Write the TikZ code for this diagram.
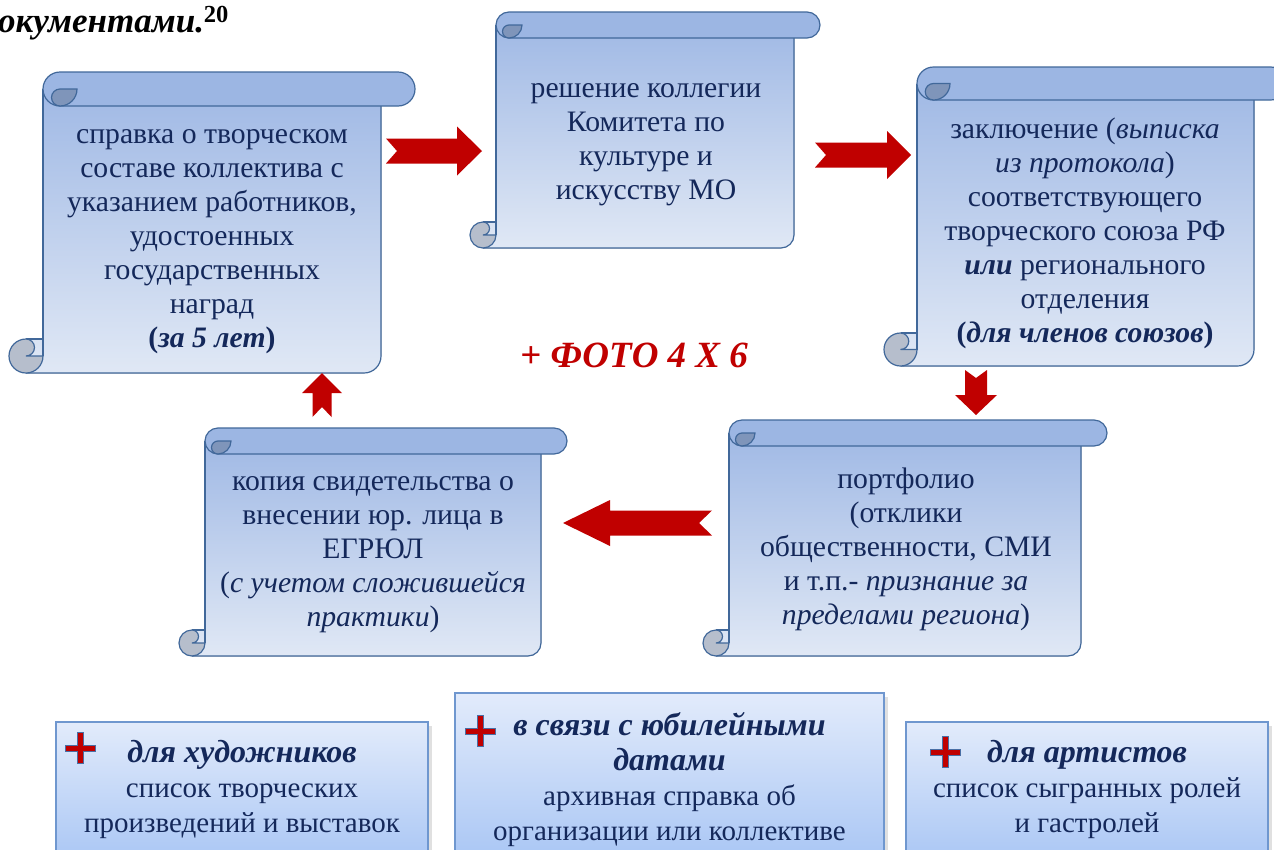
\documentclass[tikz,border=0pt]{standalone}
\usepackage{fontspec}
\setmainfont{Liberation Serif}
\usetikzlibrary{calc}
\definecolor{navy}{HTML}{14285A}
\definecolor{redarrow}{HTML}{C00000}
\definecolor{scrollline}{HTML}{41689A}
\definecolor{rollfill}{HTML}{9CB6E3}
\definecolor{pagetop}{HTML}{A0B9E5}
\definecolor{pagebot}{HTML}{E0E8F5}
\definecolor{curldark}{HTML}{7F95BA}
\definecolor{curllight}{HTML}{B6BECC}
\definecolor{boxtop}{HTML}{E2EBFB}
\definecolor{boxbot}{HTML}{A6C4F4}
\definecolor{boxline}{HTML}{6F97CF}
\definecolor{plusline}{HTML}{4A6FA5}
\newcommand\scrollshape[5]{%
 \pgfmathsetmacro\sXa{#1}\pgfmathsetmacro\sYa{#2}\pgfmathsetmacro\sXb{#3}\pgfmathsetmacro\sYb{#4}\pgfmathsetmacro\sR{#5}%
 \pgfmathsetmacro\sL{\sXa+2*\sR}\pgfmathsetmacro\sRb{\sXb-2*\sR}%
 \pgfmathsetmacro\sTa{\sYa+\sR}\pgfmathsetmacro\sTb{\sYa+2*\sR}%
 \pgfmathsetmacro\sBa{\sYb-\sR}\pgfmathsetmacro\sBb{\sYb-2*\sR}%
 \pgfmathsetmacro\sCx{\sXa+\sR}\pgfmathsetmacro\sDx{\sL+\sR}\pgfmathsetmacro\sh{\sR/2}%
 \fill[top color=pagetop,bottom color=pagebot] (\sL,\sTa) -- (\sRb,\sTa) -- (\sRb,\sBa) arc[start angle=0,end angle=90,radius=\sR] -- (\sCx,\sYb) -- (\sCx,\sBb) -- (\sL,\sBb) -- cycle;
 \draw[scrollpen] (\sRb,\sTb) -- (\sRb,\sBa) arc[start angle=0,end angle=90,radius=\sR] -- (\sCx,\sYb);
 \draw[scrollpen] (\sL,\sTa) -- (\sL,\sBa);
 \draw[scrollpen] (\sCx,\sBb) -- (\sL,\sBb);
 \filldraw[scrollpen, fill=curllight] (\sCx,\sBb) arc[start angle=270,end angle=0,radius=\sR] -- (\sCx,\sBa) arc[start angle=90,end angle=-90,radius=\sh] -- cycle;
 \filldraw[scrollpen, fill=rollfill, rounded corners=\sR pt] (\sL,\sYa) rectangle (\sXb,\sTb);
 \filldraw[scrollpen, fill=curldark] (\sDx,\sTa) arc[start angle=270,end angle=90,radius=\sh] arc[start angle=90,end angle=0,radius=\sR] -- cycle;
}
\newcommand\plussign[2]{%
 \filldraw[fill=redarrow, draw=plusline, line width=0.8pt] ($(#1,#2)+(-15,-3)$) -- ++(12,0) -- ++(0,-12.5) -- ++(6,0) -- ++(0,12.5) -- ++(12,0) -- ++(0,6) -- ++(-12,0) -- ++(0,12.5) -- ++(-6,0) -- ++(0,-12.5) -- ++(-12,0) -- cycle;
}
\newcommand\bottombox[4]{%
 \fill[black, opacity=0.12] (#1+4,#2+4) rectangle (#3+4,#4+4);
 \draw[boxline, line width=1.5pt, top color=boxtop, bottom color=boxbot] (#1,#2) rectangle (#3,#4);
}
\newcommand\hd[1]{{\fontsize{32}{35}\selectfont\bfseries\itshape #1}}
\begin{document}
\begin{tikzpicture}[x=1pt,y=-1pt,
  scrollpen/.style={draw=scrollline, line width=1.2pt},
  scrolltext/.style={text=navy, font=\fontsize{29.7}{34}\selectfont, align=center, inner sep=0pt},
  boxtext/.style={text=navy, font=\fontsize{29}{35}\selectfont, align=center, inner sep=0pt},
  blockarrow/.style={fill=redarrow}]
\useasboundingbox (0,0) rectangle (1274,849);
\clip (0,0) rectangle (1274,849);
\fill[white] (0,0) rectangle (1274,849);

% header fragment
\node[anchor=base west, inner sep=0pt, font=\fontsize{35}{40}\selectfont\bfseries\itshape] (hdr) at (-2,32) {окументами.\textsuperscript{\upshape 20}};

% scrolls
\scrollshape{9}{72}{415}{373}{17}
\scrollshape{470}{12}{820}{248}{13}
\scrollshape{884}{67}{1287}{366}{16.5}
\scrollshape{179}{428}{567}{656}{13}
\scrollshape{703}{420}{1107}{656}{13}

\node[scrolltext] (s1) at (212,238.5) {\strut справка о творческом\\составе коллектива с\\указанием работников,\\удостоенных\\государственных\\наград\\\textbf{(\textit{за 5 лет})}\strut};
\node[scrolltext] (s2) at (646,141.5) {\strut решение коллегии\\Комитета по\\культуре и\\искусству МО\strut};
\node[scrolltext] (s3) at (1085,233.5) {\strut заключение (\textit{выписка}\\\textit{из протокола})\\соответствующего\\творческого союза РФ\\\textbf{\textit{или}} регионального\\отделения\\\textbf{(\textit{для членов союзов})}\strut};
\node[scrolltext] (s4) at (373,551.5) {\strut копия свидетельства о\\внесении юр. лица в\\ЕГРЮЛ\\(\textit{с учетом сложившейся}\\\textit{практики})\strut};
\node[scrolltext] (s5) at (906,549.5) {\strut портфолио\\(отклики\\общественности, СМИ\\и т.п.- \textit{признание за}\\\textit{пределами региона})\strut};

% block arrows
\fill[blockarrow] (386,138.5) -- (457,138.5) -- (457,126.5) -- (482,151) -- (457,175.5) -- (457,163.5) -- (386,163.5) -- (397,151) -- cycle;
\fill[blockarrow] (815,142.5) -- (887,142.5) -- (887,131) -- (911,155) -- (887,179) -- (887,167.5) -- (815,167.5) -- (826,155) -- cycle;
\fill[blockarrow] (965,370) -- (976,378) -- (987,370) -- (987,395) -- (997,395) -- (976,415) -- (955,395) -- (965,395) -- cycle;
\fill[blockarrow] (312.5,417) -- (322,407) -- (331.5,417) -- (331.5,393) -- (342,393) -- (322,373) -- (302,393) -- (312.5,393) -- cycle;
\fill[blockarrow] (712,510.5) -- (610,510.5) -- (610,500) -- (563,523) -- (610,546) -- (610,535.5) -- (712,535.5) -- (699,523) -- cycle;

% photo note
\node[anchor=base west, inner sep=0pt, text=redarrow, font=\fontsize{37}{40}\selectfont\bfseries\itshape] (foto) at (520,367) {+ ФОТО 4 Х 6};

% bottom boxes
\bottombox{56}{722}{428}{870}
\bottombox{455}{693}{884}{870}
\bottombox{906}{722}{1268}{870}
\plussign{80}{748}
\plussign{480}{731}
\plussign{945}{752}
\node[boxtext] (b1) at (242,790) {\strut\hd{для художников}\\список творческих\\произведений и выставок\strut};
\node[boxtext] (b2) at (669.5,781) {\strut\hd{в связи с юбилейными}\\\hd{датами}\\архивная справка об\\организации или коллективе\strut};
\node[boxtext] (b3) at (1087,790) {\strut\hd{для артистов}\\список сыгранных ролей\\и гастролей\strut};
\end{tikzpicture}
\end{document}
